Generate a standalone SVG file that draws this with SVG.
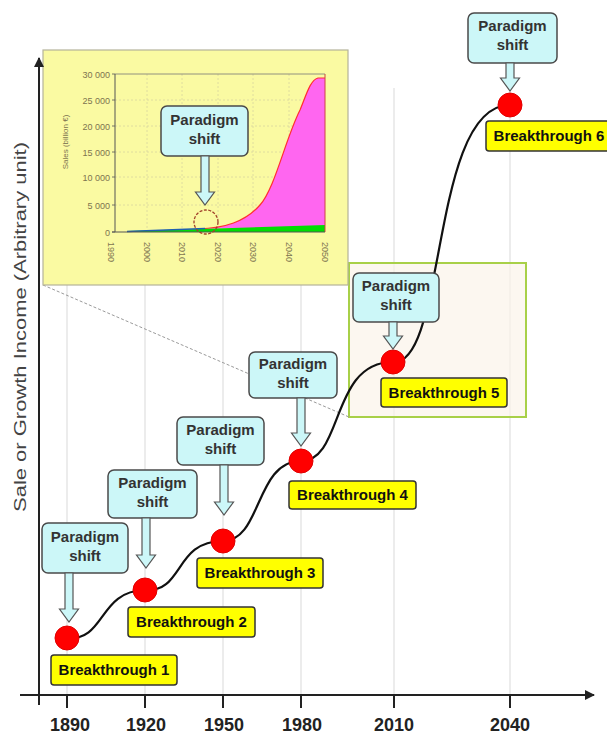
<svg xmlns="http://www.w3.org/2000/svg" width="607" height="734" viewBox="0 0 607 734">
<defs>
<style>
.grid{stroke:#d9d9d9;stroke-width:1;fill:none}
.axis{stroke:#222;stroke-width:2;fill:none}
.ps rect{fill:#ccf7f8;stroke:#4a4a4a;stroke-width:1.5}
.ps text{font-family:"Liberation Sans",Arial,sans-serif;font-weight:bold;font-size:15px;fill:#333;text-anchor:middle}
.arr{fill:#ccf7f8;stroke:#555;stroke-width:1.2}
.bt rect{fill:#ffff00;stroke:#333;stroke-width:1.5}
.bt text{font-family:"Liberation Sans",Arial,sans-serif;font-weight:bold;font-size:15px;fill:#111;text-anchor:middle}
.dot{fill:#ff0000;stroke:#e00000;stroke-width:1}
.yr{font-family:"Liberation Sans",Arial,sans-serif;font-weight:bold;font-size:18px;fill:#222;text-anchor:middle}
.curve{fill:none;stroke:#111;stroke-width:2.2}
.small{font-family:"Liberation Sans",Arial,sans-serif;font-size:9px;fill:#7d7450}
</style>
<marker id="ah" viewBox="0 0 10 10" refX="9" refY="5" markerWidth="5" markerHeight="5" orient="auto">
<path d="M0,0 L10,5 L0,10 z" fill="#222"/>
</marker>
</defs>
<rect x="0" y="0" width="607" height="734" fill="#ffffff"/>

<!-- grid lines -->
<g id="gridlines">
<line class="grid" x1="67" y1="88" x2="67" y2="695"/>
<line class="grid" x1="145" y1="88" x2="145" y2="695"/>
<line class="grid" x1="223" y1="88" x2="223" y2="695"/>
<line class="grid" x1="301" y1="88" x2="301" y2="695"/>
<line class="grid" x1="394" y1="88" x2="394" y2="695"/>
<line class="grid" x1="510" y1="88" x2="510" y2="695"/>
</g>

<!-- zoom box -->
<g id="zoombox">
<rect x="349" y="263" width="177" height="154" fill="#fbf3ea" fill-opacity="0.7" stroke="#a8d048" stroke-width="2"/>
<line x1="43" y1="285" x2="349" y2="417" stroke="#9a9a9a" stroke-width="1" stroke-dasharray="3,2"/>
</g>

<!-- inset chart -->
<g id="inset">
<rect x="43" y="50" width="305" height="235" fill="#fafaa2" stroke="#b5b39a" stroke-width="1.2"/>
<g stroke="#d8d6a0" stroke-width="0.8" stroke-dasharray="2,2">
<line x1="115" y1="100" x2="325" y2="100"/>
<line x1="115" y1="126" x2="325" y2="126"/>
<line x1="115" y1="152" x2="325" y2="152"/>
<line x1="115" y1="177" x2="325" y2="177"/>
<line x1="115" y1="205" x2="325" y2="205"/>
<line x1="147" y1="74" x2="147" y2="232"/>
<line x1="182" y1="74" x2="182" y2="232"/>
<line x1="218" y1="74" x2="218" y2="232"/>
<line x1="253" y1="74" x2="253" y2="232"/>
<line x1="289" y1="74" x2="289" y2="232"/>
</g>
<path d="M198,229 C225,228 245,222 260,205 C275,188 285,140 300,110 C306,96 310,80 318,78 L325,78 L325,227 L198,229 z" fill="#ff66f0"/>
<path d="M198,229 C225,228 245,222 260,205 C275,188 285,140 300,110 C306,96 310,80 318,78 L325,78" fill="none" stroke="#ff3030" stroke-width="1.2"/>
<path d="M127,231 L200,229 L325,225 L325,232 L127,232 z" fill="#00dd00"/>
<path d="M127,231.5 L205,228.5" fill="none" stroke="#2060b0" stroke-width="1.5"/>
<line x1="115" y1="74" x2="325" y2="74" stroke="#777" stroke-width="0.8"/>
<line x1="325" y1="74" x2="325" y2="232" stroke="#cc4444" stroke-width="1"/>
<line x1="115" y1="74" x2="115" y2="232" stroke="#555" stroke-width="1"/>
<line x1="112" y1="232" x2="325" y2="232" stroke="#555" stroke-width="1"/>
<g stroke="#555" stroke-width="0.8">
<line x1="112" y1="74" x2="115" y2="74"/><line x1="112" y1="100" x2="115" y2="100"/>
<line x1="112" y1="126" x2="115" y2="126"/><line x1="112" y1="152" x2="115" y2="152"/>
<line x1="112" y1="177" x2="115" y2="177"/><line x1="112" y1="205" x2="115" y2="205"/>
<line x1="112" y1="232" x2="115" y2="232"/>
</g>
<g class="small" text-anchor="end">
<text x="110" y="78">30 000</text>
<text x="110" y="104">25 000</text>
<text x="110" y="130">20 000</text>
<text x="110" y="156">15 000</text>
<text x="110" y="181">10 000</text>
<text x="110" y="209">5 000</text>
<text x="110" y="236">0</text>
</g>
<text class="small" style="font-size:8px" text-anchor="middle" transform="translate(68,142) rotate(-90)">Sales (billion €)</text>
<g class="small">
<text transform="translate(108,242) rotate(90)">1990</text>
<text transform="translate(144,242) rotate(90)">2000</text>
<text transform="translate(179,242) rotate(90)">2010</text>
<text transform="translate(215,242) rotate(90)">2020</text>
<text transform="translate(250,242) rotate(90)">2030</text>
<text transform="translate(286,242) rotate(90)">2040</text>
<text transform="translate(322,242) rotate(90)">2050</text>
</g>
<circle cx="206" cy="222" r="12" fill="none" stroke="#a0402a" stroke-width="1.3" stroke-dasharray="3,1.5"/>
<g class="ps" id="ps_inset">
<rect x="161" y="106" width="87" height="50" rx="6"/>
<text x="204.5" y="125">Paradigm</text>
<text x="204.5" y="144">shift</text>
<path class="arr" d="M201,156 L209,156 L209,192 L214.5,192 L205,205 L195.5,192 L201,192 z"/>
</g>
</g>

<!-- axes -->
<g id="axes">
<line class="axis" x1="39" y1="705" x2="39" y2="58" marker-end="url(#ah)"/>
<line class="axis" x1="20" y1="695" x2="594" y2="695" marker-end="url(#ah)"/>
<g stroke="#222" stroke-width="2">
<line x1="67" y1="695" x2="67" y2="708"/>
<line x1="145" y1="695" x2="145" y2="708"/>
<line x1="223" y1="695" x2="223" y2="708"/>
<line x1="301" y1="695" x2="301" y2="708"/>
<line x1="394" y1="695" x2="394" y2="708"/>
<line x1="510" y1="695" x2="510" y2="708"/>
</g>
<text class="yr" x="70" y="731">1890</text>
<text class="yr" x="146" y="731">1920</text>
<text class="yr" x="224" y="731">1950</text>
<text class="yr" x="302" y="731">1980</text>
<text class="yr" x="394" y="731">2010</text>
<text class="yr" x="510" y="731">2040</text>
<text font-family="'Liberation Sans',Arial,sans-serif" font-size="16" fill="#444" text-anchor="middle" textLength="370" lengthAdjust="spacingAndGlyphs" transform="translate(26,327) rotate(-90)">Sale or Growth Income (Arbitrary unit)</text>
</g>

<!-- connectors: growth curve -->
<g id="connectors">
<path class="curve" d="M67,638 C106,641 98,591 145,590 C184,593 174,541 223,541 C262,541 255,461 301,461 C344,461 330,362 393,362 C447,366 430,105 510,105"/>
</g>

<!-- breakthrough nodes -->
<g id="b1"><circle class="dot" cx="67" cy="638" r="12"/></g>
<g id="b2"><circle class="dot" cx="145" cy="590" r="12"/></g>
<g id="b3"><circle class="dot" cx="223" cy="541" r="12"/></g>
<g id="b4"><circle class="dot" cx="301" cy="461" r="12"/></g>
<g id="b5"><circle class="dot" cx="393" cy="362" r="12"/></g>
<g id="b6"><circle class="dot" cx="510" cy="105" r="12"/></g>

<g class="bt" id="bt1"><rect x="51" y="655" width="126" height="30" rx="3"/><text x="114" y="675">Breakthrough 1</text></g>
<g class="bt" id="bt2"><rect x="128" y="607" width="127" height="30" rx="3"/><text x="191.5" y="627">Breakthrough 2</text></g>
<g class="bt" id="bt3"><rect x="197" y="558" width="126" height="30" rx="3"/><text x="260" y="578">Breakthrough 3</text></g>
<g class="bt" id="bt4"><rect x="289" y="481" width="127" height="28" rx="3"/><text x="352.5" y="500">Breakthrough 4</text></g>
<g class="bt" id="bt5"><rect x="381" y="378" width="126" height="29" rx="3"/><text x="444" y="398">Breakthrough 5</text></g>
<g class="bt" id="bt6"><rect x="486" y="121" width="126" height="30" rx="3"/><text x="549" y="141">Breakthrough 6</text></g>

<!-- paradigm shift nodes -->
<g class="ps" id="ps1">
<rect x="42" y="523" width="86" height="50" rx="6"/>
<text x="85" y="542">Paradigm</text><text x="85" y="561">shift</text>
<path class="arr" d="M65,573 L73,573 L73,609 L78.5,609 L69,622 L59.5,609 L65,609 z"/>
</g>
<g class="ps" id="ps2">
<rect x="108" y="470" width="89" height="48" rx="6"/>
<text x="152.5" y="488">Paradigm</text><text x="152.5" y="507">shift</text>
<path class="arr" d="M142,518 L150,518 L150,555 L155.5,555 L146,568 L136.5,555 L142,555 z"/>
</g>
<g class="ps" id="ps3">
<rect x="177" y="417" width="87" height="48" rx="6"/>
<text x="220.5" y="435">Paradigm</text><text x="220.5" y="454">shift</text>
<path class="arr" d="M220,465 L228,465 L228,502 L233.5,502 L224,515 L214.5,502 L220,502 z"/>
</g>
<g class="ps" id="ps4">
<rect x="249" y="352" width="88" height="46" rx="6"/>
<text x="293" y="369">Paradigm</text><text x="293" y="388">shift</text>
<path class="arr" d="M297,398 L305,398 L305,433 L310.5,433 L301,446 L291.5,433 L297,433 z"/>
</g>
<g class="ps" id="ps5">
<rect x="353" y="273" width="86" height="49" rx="6"/>
<text x="396" y="291">Paradigm</text><text x="396" y="310">shift</text>
<path class="arr" d="M389,322 L397,322 L397,336 L402.5,336 L393,349 L383.5,336 L389,336 z"/>
</g>
<g class="ps" id="ps6">
<rect x="468" y="13" width="89" height="50" rx="6"/>
<text x="512.5" y="31">Paradigm</text><text x="512.5" y="50">shift</text>
<path class="arr" d="M506,63 L514,63 L514,78 L519.5,78 L510,91 L500.5,78 L506,78 z"/>
</g>
</svg>
